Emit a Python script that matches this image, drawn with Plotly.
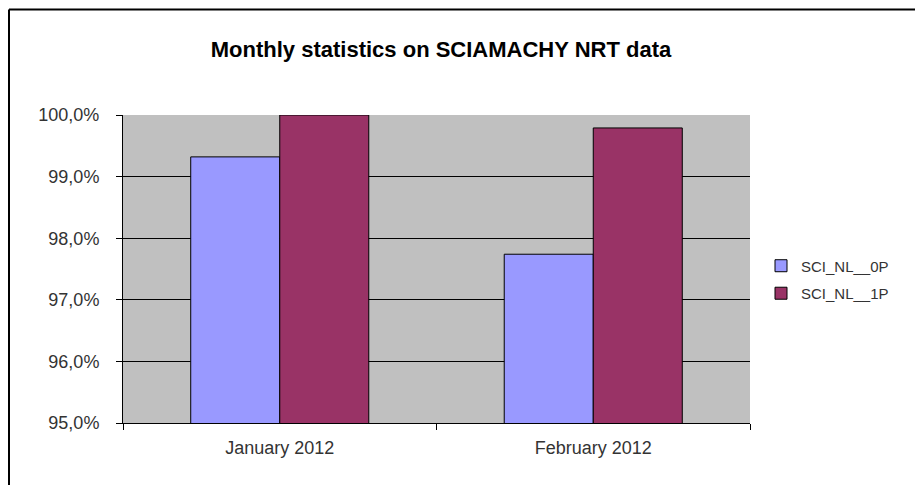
import plotly.graph_objects as go

categories = ["January 2012", "February 2012"]
sci_nl_0p = [0.9932, 0.9774]
sci_nl_1p = [1.0000, 0.9979]
series_names = ["SCI_NL__0P", "SCI_NL__1P"]
tick_vals = [0.95, 0.96, 0.97, 0.98, 0.99, 1.00]

FONT = "Arial, Liberation Sans, sans-serif"

fig = go.Figure()
fig.add_trace(go.Bar(x=categories, y=sci_nl_0p, name=series_names[0],
                     marker=dict(color="#9999FF", line=dict(color="#000000", width=1)),
                     legendgroup="a"))
fig.add_trace(go.Bar(x=categories, y=sci_nl_1p, name=series_names[1],
                     marker=dict(color="#993366", line=dict(color="#000000", width=1)),
                     legendgroup="b"))

W, H = 915, 477
L, T = 115, 107
R = W - (750 - 8)
B = H - (423 - 8)
PW = W - L - R
PH = H - T - B

fig.update_layout(
    width=W, height=H,
    margin=dict(l=L, r=R, t=T, b=B),
    paper_bgcolor="white",
    plot_bgcolor="#C0C0C0",
    separators=",.",
    barmode="group",
    bargap=0.432,
    bargroupgap=0,
    font=dict(family=FONT, size=18, color="#333333"),
    title=dict(text="<b>Monthly statistics on SCIAMACHY NRT data</b>",
               x=(441 - 8) / W, xanchor="center", y=1 - 41 / H, yanchor="middle",
               font=dict(family=FONT, size=22, color="#000000")),
    legend=dict(x=(753 - L) / PW, xanchor="left", y=0.466, yanchor="middle",
                font=dict(family=FONT, size=15, color="#333333"),
                traceorder="grouped", tracegroupgap=5,
                bgcolor="rgba(0,0,0,0)"),
    xaxis=dict(showline=True, linecolor="#000000", linewidth=1,
               ticks="outside", ticklen=6, tickcolor="#000000",
               tickson="boundaries", showgrid=False,
               ticklabelstandoff=8),
    yaxis=dict(range=[0.95, 1.0], tickvals=tick_vals, tickformat=".1%",
               showline=True, linecolor="#000000", linewidth=1,
               ticks="outside", ticklen=6, tickcolor="#000000",
               showgrid=True, gridcolor="#000000", gridwidth=1,
               zeroline=False, ticklabelstandoff=13),
    shapes=[
        dict(type="line", xref="paper", yref="paper",
             x0=(1 - L) / PW, x1=(W - L) / PW, y0=(PH + T - 1.5) / PH, y1=(PH + T - 1.5) / PH,
             line=dict(color="#000000", width=2)),
        dict(type="line", xref="paper", yref="paper",
             x0=(1 - L) / PW, x1=(1 - L) / PW, y0=(PH + T - 1.5) / PH, y1=-B / PH,
             line=dict(color="#000000", width=2)),
    ],
)

fig.write_html("out.html", default_width=f"{W}px", default_height=f"{H}px",
               post_script="document.documentElement.style.overflow='hidden';document.body.style.overflow='hidden';")
